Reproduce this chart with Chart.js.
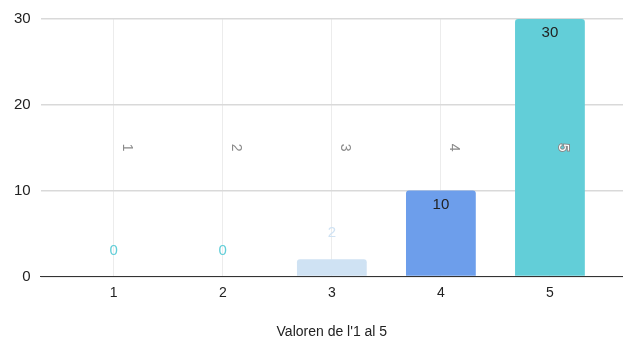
<!DOCTYPE html>
<html>
<head>
<meta charset="utf-8">
<script src="https://cdn.jsdelivr.net/npm/chart.js@4"></script>
<style>
  html, body { margin: 0; padding: 0; background: #fff; }
  #wrap { width: 623px; height: 341px; }
</style>
</head>
<body>
<div id="wrap"><canvas id="chart"></canvas></div>
<script>
// Data
const categories = [1, 2, 3, 4, 5];
const counts = [0, 0, 2, 10, 30];
const barColors = ['#cfe2f3', '#6d9eeb', '#cfe2f3', '#6d9eeb', '#62ced8'];
const valueLabelColors = ['#62ced8', '#62ced8', '#cfe2f3', '#222222', '#222222'];
const yTicks = [0, 10, 20, 30];

// Draws the value labels and the rotated category labels
const labelPlugin = {
    id: 'barLabels',
    afterDatasetsDraw(chart) {
        const ctx = chart.ctx;
        const meta = chart.getDatasetMeta(0);
        const yScale = chart.scales.y;
        const midY = yScale.getPixelForValue(15);
        ctx.save();
        ctx.textAlign = 'center';
        ctx.textBaseline = 'middle';
        meta.data.forEach(function (bar, i) {
            const h = bar.base - bar.y;
            ctx.font = '15px "Liberation Sans", Arial, sans-serif';
            ctx.fillStyle = valueLabelColors[i];
            if (h > 30) {
                ctx.fillText(String(counts[i]), bar.x, bar.y + 14);
            } else {
                ctx.fillText(String(counts[i]), bar.x, bar.y - 26);
            }

            // rotated category label
            const inside = bar.y < midY;
            ctx.save();
            ctx.translate(bar.x + 13, midY);
            ctx.rotate(Math.PI / 2);
            ctx.font = '14px "Liberation Sans", Arial, sans-serif';
            if (inside) {
                ctx.lineWidth = 2;
                ctx.strokeStyle = '#8a8a8a';
                ctx.strokeText(String(categories[i]), 0, 0);
                ctx.fillStyle = '#ffffff';
                ctx.fillText(String(categories[i]), 0, 0);
            } else {
                ctx.fillStyle = '#8a8a8a';
                ctx.fillText(String(categories[i]), 0, 0);
            }
            ctx.restore();
        });
        ctx.restore();
    }
};

const ctx = document.getElementById('chart').getContext('2d');
new Chart(ctx, {
    type: 'bar',
    data: {
        datasets: [{
            data: categories.map((c, i) => ({ x: c, y: counts[i] })),
            backgroundColor: barColors,
            borderWidth: 0,
            borderRadius: { topLeft: 3, topRight: 3 },
            borderSkipped: 'bottom',
            categoryPercentage: 0.64,
            barPercentage: 1
        }]
    },
    options: {
        responsive: true,
        maintainAspectRatio: false,
        animation: false,
        layout: { padding: { top: 16, right: 0, bottom: 0, left: 4 } },
        plugins: {
            legend: { display: false },
            tooltip: { enabled: false }
        },
        scales: {
            x: {
                type: 'linear',
                offset: false,
                min: 0.33,
                max: 5.67,
                afterBuildTicks: function (axis) {
                    axis.ticks = categories.map(v => ({ value: v }));
                },
                ticks: {
                    color: '#222',
                    font: { size: 14, family: '"Liberation Sans", Arial, sans-serif' },
                    padding: 8,
                    maxRotation: 0
                },
                grid: { color: '#ececec', drawTicks: false, offset: false },
                border: { display: true, color: '#333', width: 1 },
                title: {
                    display: true,
                    text: "Valoren de l'1 al 5",
                    color: '#222',
                    font: { size: 14, family: '"Liberation Sans", Arial, sans-serif' },
                    padding: { top: 15, bottom: 0 }
                }
            },
            y: {
                min: 0,
                max: 30,
                afterBuildTicks: function (axis) {
                    axis.ticks = yTicks.map(v => ({ value: v }));
                },
                ticks: {
                    color: '#222',
                    font: { size: 15, family: '"Liberation Sans", Arial, sans-serif' },
                    padding: 10
                },
                grid: { color: '#d9d9d9', drawTicks: false, lineWidth: 1.5 },
                border: { display: false }
            }
        }
    },
    plugins: [labelPlugin]
});
</script>
</body>
</html>
